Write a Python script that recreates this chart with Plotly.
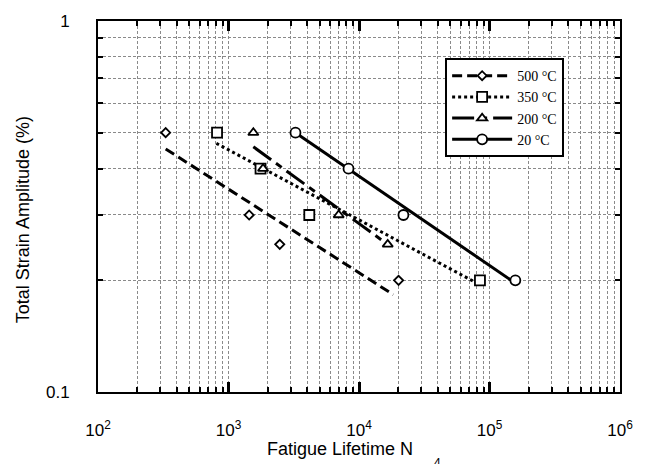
import plotly.graph_objects as go

# ---- data ----
series_names = ["500 °C", "350 °C", "200 °C", "20 °C"]

N_500 = [330, 1440, 2470, 20100]
eps_500 = [0.50, 0.30, 0.25, 0.20]
N_350 = [817, 1760, 4160, 84500]
eps_350 = [0.50, 0.40, 0.30, 0.20]
N_200 = [1550, 1840, 6990, 16600]
eps_200 = [0.50, 0.40, 0.30, 0.25]
N_20 = [3260, 8310, 21900, 157800]
eps_20 = [0.50, 0.40, 0.30, 0.20]

# fitted lines (start / end)
fitN_500 = [330, 18300]
fiteps_500 = [0.452, 0.183]
fitN_350 = [807, 79000]
fiteps_350 = [0.468, 0.197]
fitN_200 = [1550, 16300]
fiteps_200 = [0.458, 0.251]
fitN_20 = [3260, 157800]
fiteps_20 = [0.50, 0.1965]

x_tick_vals = [1e2, 1e3, 1e4, 1e5, 1e6]
x_tick_text = ["10<sup>2</sup>", "10<sup>3</sup>", "10<sup>4</sup>", "10<sup>5</sup>", "10<sup>6</sup>"]
y_tick_vals = [0.1, 1]
y_tick_text = ["0.1", "1"]

# ---- styling ----
styles = [
    dict(dash="10px,5px", symbol="diamond", size=7),
    dict(dash="3px,3px", symbol="square", size=10),
    dict(dash="22px,6px,7px,6px", symbol="triangle-up", size=9),
    dict(dash="solid", symbol="circle", size=10),
]
data_N = [N_500, N_350, N_200, N_20]
data_e = [eps_500, eps_350, eps_200, eps_20]
fit_N = [fitN_500, fitN_350, fitN_200, fitN_20]
fit_e = [fiteps_500, fiteps_350, fiteps_200, fiteps_20]

fig = go.Figure()
for st, fx, fy in zip(styles, fit_N, fit_e):
    fig.add_trace(go.Scatter(x=fx, y=fy, mode="lines", showlegend=False,
                             line=dict(color="black", width=3, dash=st["dash"])))
for st, dx, dy in zip(styles, data_N, data_e):
    fig.add_trace(go.Scatter(x=dx, y=dy, mode="markers", showlegend=False,
                             marker=dict(symbol=st["symbol"], size=st["size"], color="white",
                                         line=dict(color="black", width=1.8))))
for name, st in zip(series_names, styles):
    fig.add_trace(go.Scatter(x=[None], y=[None], mode="lines+markers", name=name,
                             line=dict(color="black", width=3, dash=st["dash"]),
                             marker=dict(symbol=st["symbol"], size=st["size"], color="white",
                                         line=dict(color="black", width=1.8))))

minor_x = [k * 10 ** n for n in range(2, 6) for k in range(2, 10)]
minor_y = [k / 10 for k in range(2, 10)]
grid_kw = dict(showgrid=True, gridcolor="#8a8a8a", gridwidth=1, griddash="3px,2px")

fig.update_layout(
    width=645, height=464,
    margin=dict(l=98, r=15, t=13, b=72),
    paper_bgcolor="white", plot_bgcolor="white",
    font=dict(family="Liberation Sans, Arial", size=17, color="black"),
    legend=dict(x=0.665, y=0.90, xanchor="left", yanchor="top",
                bgcolor="white", bordercolor="black", borderwidth=2,
                font=dict(family="Liberation Serif, Times New Roman", size=14, color="black"),
                itemwidth=60, tracegroupgap=0),
    xaxis=dict(type="log", range=[2, 6], tickmode="array", tickvals=x_tick_vals, ticktext=x_tick_text,
               ticks="inside", ticklen=10, tickwidth=2.5, tickcolor="black",
               showline=True, linewidth=2, linecolor="black", mirror="allticks",
               ticklabelstandoff=22, tickfont=dict(size=17),
               minor=dict(tickmode="array", tickvals=minor_x, ticks="inside", ticklen=5,
                          tickwidth=1.8, tickcolor="black", **grid_kw),
               zeroline=False, **grid_kw),
    yaxis=dict(type="log", range=[-1, 0], tickmode="array", tickvals=y_tick_vals, ticktext=y_tick_text,
               ticks="inside", ticklen=10, tickwidth=2.5, tickcolor="black",
               showline=True, linewidth=2, linecolor="black", mirror="allticks",
               ticklabelstandoff=23, tickfont=dict(size=17),
               minor=dict(tickmode="array", tickvals=minor_y, ticks="inside", ticklen=5,
                          tickwidth=1.8, tickcolor="black", **grid_kw),
               zeroline=False, **grid_kw),
    annotations=[
        dict(text="Fatigue Lifetime N", xref="paper", yref="paper",
             x=(345 - 98) / 532, y=-(450 - 392) / 379, xanchor="center", yanchor="middle",
             showarrow=False, font=dict(size=18)),
        dict(text="Total Strain Amplitude (%)", xref="paper", yref="paper",
             x=(21 - 98) / 532, y=(392 - 216) / 379, xanchor="center", yanchor="middle",
             textangle=-90, showarrow=False, font=dict(size=18)),
        dict(text="4", xref="paper", yref="paper",
             x=(444 - 98) / 532, y=-(455 - 392) / 379, xanchor="center", yanchor="top",
             showarrow=False, font=dict(size=12)),
    ],
)

fig.write_html("out.html")
